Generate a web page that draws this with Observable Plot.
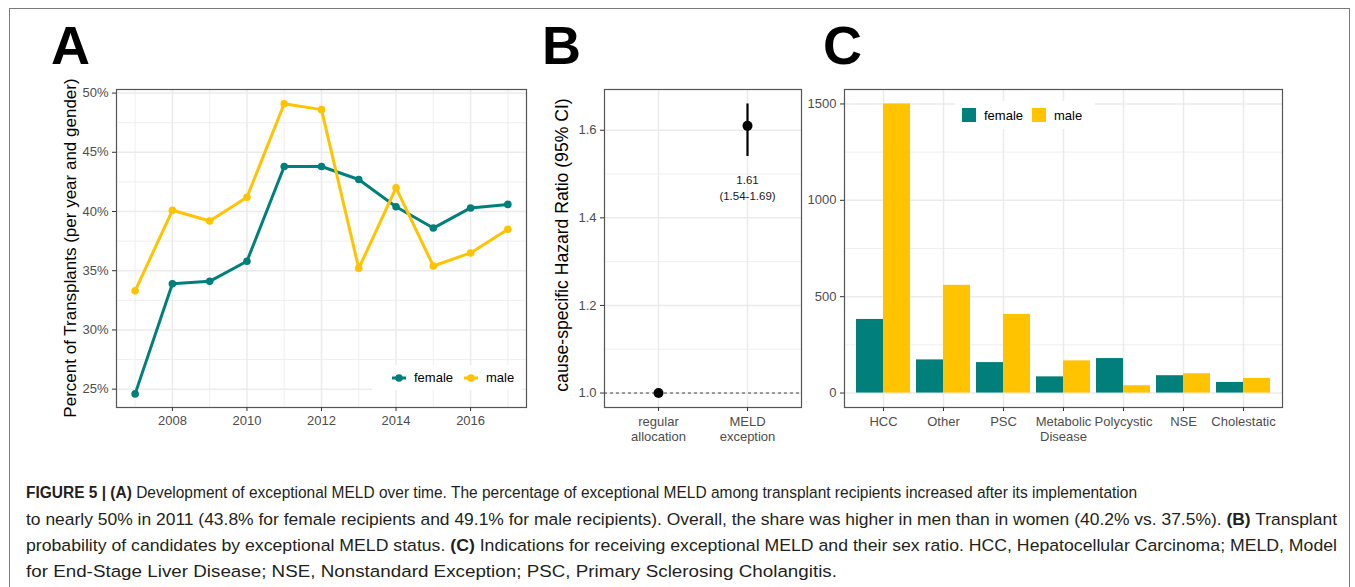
<!DOCTYPE html>
<html>
<head>
<meta charset="utf-8">
<script src="https://cdn.jsdelivr.net/npm/d3@7"></script>
<script src="https://cdn.jsdelivr.net/npm/@observablehq/plot@0.6"></script>
<style>
html, body { margin: 0; padding: 0; background: #fff; }
#fig { position: relative; width: 1355px; height: 587px; overflow: hidden; font-family: "Liberation Sans", Arial, sans-serif; background: #fff; }
.abs { position: absolute; }
.border { left: 9px; top: 8px; width: 1341px; height: 640px; border: 1.5px solid #7a7a7a; box-sizing: border-box; }
.letter { font-weight: bold; font-size: 54px; line-height: 54px; color: #000; }
.ytitle { color: #000; white-space: nowrap; transform: translate(-50%, -50%) rotate(-90deg); line-height: 1; }
.leg { background: #fff; display: flex; align-items: center; font-size: 13px; color: #000; }
.capline { left: 26px; font-size: 16.8px; line-height: 20px; color: #231f20; white-space: nowrap; transform-origin: 0 0; }
.capline b { font-weight: bold; }
.plotbox { position: absolute; top: 0; }
</style>
</head>
<body>
<div id="fig">
  <div class="abs border"></div>
  <div class="abs letter" style="left:51px;top:18px;">A</div>
  <div class="abs letter" style="left:542px;top:18px;">B</div>
  <div class="abs letter" style="left:823px;top:18px;">C</div>
  <div id="pA" class="plotbox" style="left:0px;"></div>
  <div id="pB" class="plotbox" style="left:520px;"></div>
  <div id="pC1" class="plotbox" style="left:800px;"></div>
  <div id="pC2" class="plotbox" style="left:800px;"></div>
  <div class="abs ytitle" style="left:70px;top:248px;font-size:17px;">Percent of Transplants (per year and gender)</div>
  <div class="abs ytitle" style="left:563px;top:245px;font-size:17.6px;">cause-specific Hazard Ratio (95% CI)</div>
  <div id="legA" class="abs leg" style="left:372px;top:365px;width:150px;height:25px;"></div>
  <div id="legC" class="abs leg" style="left:955px;top:101px;width:140px;height:28px;"></div>
  <div id="caption"></div>
</div>
<script>
// ---------- Data ----------
const years = [2007, 2008, 2009, 2010, 2011, 2012, 2013, 2014, 2015, 2016, 2017];
const femalePct = [24.6, 33.9, 34.1, 35.8, 43.8, 43.8, 42.7, 40.4, 38.6, 40.3, 40.6];
const malePct = [33.3, 40.1, 39.2, 41.2, 49.1, 48.6, 35.2, 42.0, 35.4, 36.5, 38.5];
const sexes = ["female", "male"];
const sexColors = ["#007f7b", "#ffc300"];
const xTicksA = [2008, 2010, 2012, 2014, 2016];
const xMinorA = [2007, 2009, 2011, 2013, 2015, 2017];
const yTicksA = [25, 30, 35, 40, 45, 50];
const yMinorA = [27.5, 32.5, 37.5, 42.5, 47.5];

const groupsB = ["regular allocation", "MELD exception"];
const hrEst = [1.0, 1.61];
const hrLow = [null, 1.54];
const hrHigh = [null, 1.66];
const hrLabels = [null, "1.61\n(1.54-1.69)"];
const yTicksB = [1.0, 1.2, 1.4, 1.6];
const yMinorB = [1.1, 1.3, 1.5];

const indications = ["HCC", "Other", "PSC", "Metabolic Disease", "Polycystic", "NSE", "Cholestatic"];
const femaleCount = [382, 172, 158, 84, 179, 90, 55];
const maleCount = [1500, 559, 408, 167, 38, 100, 76];
const yTicksC = [0, 500, 1000, 1500];
const yMinorC = [250, 750, 1250];

const captionLines = [
  "<b>FIGURE 5 | (A)</b> Development of exceptional MELD over time. The percentage of exceptional MELD among transplant recipients increased after its implementation",
  "to nearly 50% in 2011 (43.8% for female recipients and 49.1% for male recipients). Overall, the share was higher in men than in women (40.2% vs. 37.5%). <b>(B)</b> Transplant",
  "probability of candidates by exceptional MELD status. <b>(C)</b> Indications for receiving exceptional MELD and their sex ratio. HCC, Hepatocellular Carcinoma; MELD, Model",
  "for End-Stage Liver Disease; NSE, Nonstandard Exception; PSC, Primary Sclerosing Cholangitis."
];

// ---------- Common ----------
const FONT = "'Liberation Sans', Arial, sans-serif";
const GRID = "#ebebeb";
const baseStyle = { background: "transparent", fontFamily: FONT, fontSize: "13px", overflow: "visible" };
const axisOpts = { tickSize: 4, tickPadding: 4, label: null, stroke: "#333", fill: "#4d4d4d", fontSize: 13 };

// ---------- Panel A ----------
const dataA = years.flatMap((yr, i) => [
  { year: yr, sex: "female", pct: femalePct[i] },
  { year: yr, sex: "male", pct: malePct[i] }
]);
const plotA = Plot.plot({
  width: 540, height: 460,
  marginLeft: 116, marginRight: 14, marginTop: 89, marginBottom: 53,
  style: baseStyle,
  x: { domain: [2006.5, 2017.5] },
  y: { domain: [23.45, 50.3] },
  color: { domain: sexes, range: sexColors },
  marks: [
    Plot.ruleX(xMinorA, { stroke: GRID, strokeWidth: 0.8 }),
    Plot.ruleY(yMinorA, { stroke: GRID, strokeWidth: 0.8 }),
    Plot.ruleX(xTicksA, { stroke: GRID, strokeWidth: 1.5 }),
    Plot.ruleY(yTicksA, { stroke: GRID, strokeWidth: 1.5 }),
    Plot.line(dataA, { x: "year", y: "pct", stroke: "sex", strokeWidth: 3 }),
    Plot.dot(dataA, { x: "year", y: "pct", fill: "sex", r: 3.8 }),
    Plot.frame({ stroke: "#555", strokeWidth: 1.2 }),
    Plot.axisX({ ...axisOpts, ticks: xTicksA, tickFormat: "d" }),
    Plot.axisY({ ...axisOpts, ticks: yTicksA, tickFormat: d => d + "%" })
  ]
});
document.getElementById("pA").append(plotA);

// ---------- Panel B ----------
const dataB = groupsB.map((g, i) => ({ group: g, hr: hrEst[i], lo: hrLow[i], hi: hrHigh[i], label: hrLabels[i] }));
const plotB = Plot.plot({
  width: 290, height: 460,
  marginLeft: 84, marginRight: 9, marginTop: 89, marginBottom: 53,
  style: baseStyle,
  x: { type: "point", domain: groupsB, padding: 0.6 },
  y: { domain: [0.967, 1.693] },
  marks: [
    Plot.ruleY(yMinorB, { stroke: GRID, strokeWidth: 0.8 }),
    Plot.ruleY(yTicksB, { stroke: GRID, strokeWidth: 1.5 }),
    Plot.ruleX(groupsB, { stroke: GRID, strokeWidth: 1.5 }),
    Plot.ruleY([1], { stroke: "#444", strokeWidth: 1, strokeDasharray: "3,3" }),
    Plot.ruleX(dataB.filter(d => d.lo != null), { x: "group", y1: "lo", y2: "hi", stroke: "#000", strokeWidth: 2.2 }),
    Plot.dot(dataB, { x: "group", y: "hr", fill: "#000", r: 5 }),
    Plot.text(dataB.filter(d => d.label), { x: "group", y: "hr", text: "label", dy: 61, fontSize: 11.5, lineHeight: 1.4, fill: "#1a1a1a" }),
    Plot.frame({ stroke: "#555", strokeWidth: 1.2 }),
    Plot.axisX({ ...axisOpts, tickFormat: d => d.replace(" ", "\n"), lineHeight: 1.15 }),
    Plot.axisY({ ...axisOpts, ticks: yTicksB, tickFormat: ".1f" })
  ]
});
document.getElementById("pB").append(plotB);

// ---------- Panel C ----------
const dataC = indications.flatMap((c, i) => [
  { cat: c, sex: "female", n: femaleCount[i] },
  { cat: c, sex: "male", n: maleCount[i] }
]);
const plotC1 = Plot.plot({
  width: 555, height: 460,
  marginLeft: 44, marginRight: 73, marginTop: 89, marginBottom: 53,
  style: baseStyle,
  x: { type: "point", domain: indications, padding: 0.6 },
  y: { domain: [-75, 1575] },
  marks: [
    Plot.ruleY(yMinorC, { stroke: GRID, strokeWidth: 0.8 }),
    Plot.ruleY(yTicksC, { stroke: GRID, strokeWidth: 1.5 }),
    Plot.ruleX(indications, { stroke: GRID, strokeWidth: 1.5 }),
    Plot.frame({ stroke: "#555", strokeWidth: 1.2 }),
    Plot.axisX({ ...axisOpts, tickFormat: d => d.replace(" ", "\n"), lineHeight: 1.15 }),
    Plot.axisY({ ...axisOpts, ticks: yTicksC, tickFormat: "d" })
  ]
});
document.getElementById("pC1").append(plotC1);

const plotC2 = Plot.plot({
  width: 555, height: 460,
  marginLeft: 44, marginRight: 73, marginTop: 89, marginBottom: 53,
  style: baseStyle,
  fx: { domain: indications, paddingInner: 0.1, paddingOuter: 0.15, axis: null, label: null },
  x: { domain: sexes, padding: 0, axis: null },
  y: { domain: [-75, 1575], axis: null },
  color: { domain: sexes, range: sexColors },
  marks: [
    Plot.barY(dataC, { fx: "cat", x: "sex", y: "n", fill: "sex" })
  ]
});
document.getElementById("pC2").append(plotC2);

// ---------- Legends (HTML) ----------
const legA = document.getElementById("legA");
sexes.forEach((s, i) => {
  const item = document.createElement("div");
  item.style.cssText = "display:flex;align-items:center;margin-left:" + (i === 0 ? 19 : 10) + "px;";
  item.innerHTML = `<svg width="16" height="12" style="margin-right:7px"><line x1="1" x2="15" y1="6" y2="6" stroke="${sexColors[i]}" stroke-width="3"/><circle cx="8" cy="6" r="3.8" fill="${sexColors[i]}"/></svg><span>${s}</span>`;
  legA.append(item);
});
const legC = document.getElementById("legC");
sexes.forEach((s, i) => {
  const item = document.createElement("div");
  item.style.cssText = "display:flex;align-items:center;margin-left:" + (i === 0 ? 7 : 9) + "px;";
  item.innerHTML = `<div style="width:14px;height:14px;background:${sexColors[i]};margin-right:8px"></div><span>${s}</span>`;
  legC.append(item);
});

// ---------- Caption ----------
const capTops = [483, 510, 536, 562];
const capWidths = [1111, 1311, 1311, 811];
const cap = document.getElementById("caption");
captionLines.forEach((html, i) => {
  const el = document.createElement("div");
  el.className = "abs capline";
  el.style.top = capTops[i] + "px";
  el.innerHTML = html;
  cap.append(el);
  const w = el.getBoundingClientRect().width;
  el.style.transform = `scaleX(${capWidths[i] / w})`;
});
</script>
</body>
</html>
